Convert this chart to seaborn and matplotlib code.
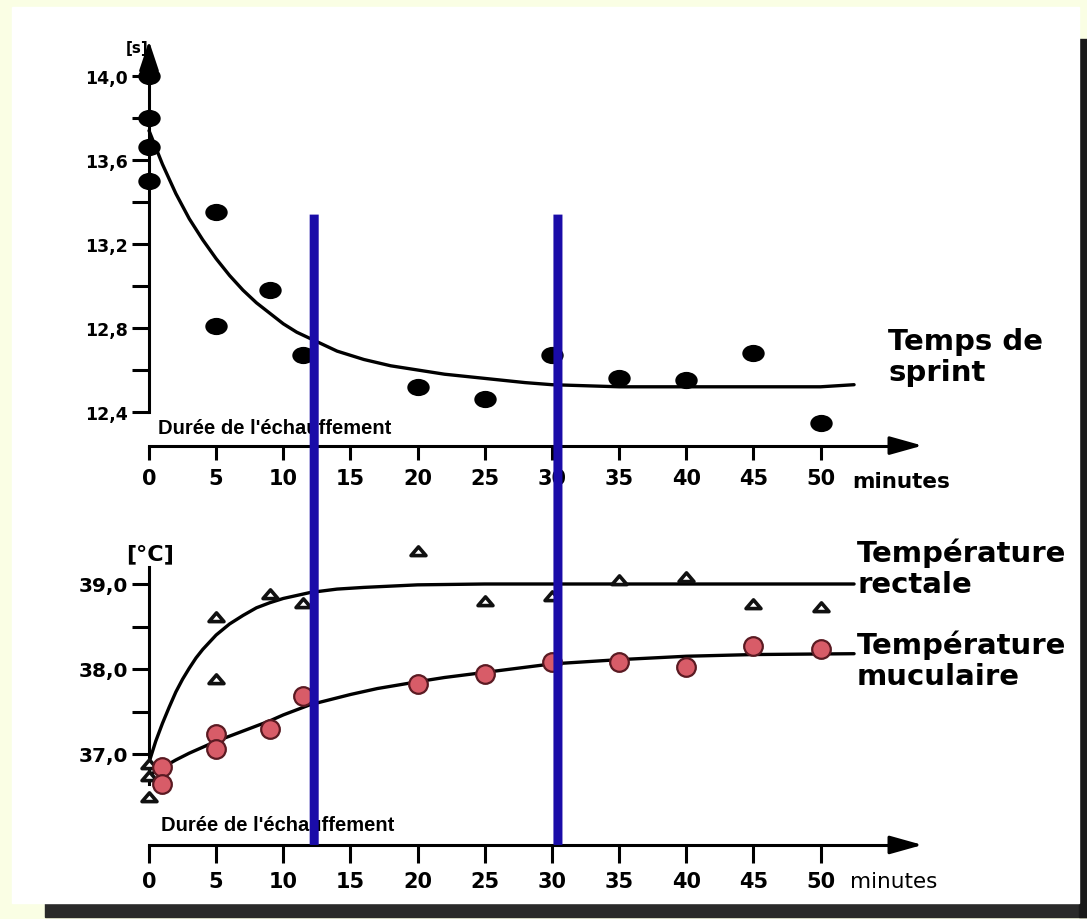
import pandas as pd
import seaborn as sns
import matplotlib.pyplot as plt
from matplotlib.patches import Rectangle, ConnectionPatch
from matplotlib.path import Path
from matplotlib.transforms import Affine2D
from matplotlib.ticker import FixedLocator

# --- values ---
minute_ticks = [0, 5, 10, 15, 20, 25, 30, 35, 40, 45, 50]

# sprint time [s]
sprint_min = [0, 0, 0, 0, 5, 5, 9, 11.5, 20, 25, 30, 35, 40, 45, 50]
sprint_s = [14.0, 13.80, 13.66, 13.50, 13.35, 12.81, 12.98, 12.67,
            12.52, 12.46, 12.67, 12.56, 12.55, 12.68, 12.35]
sprint_fit_min = [0, 0.5, 1, 1.5, 2, 3, 4, 5, 6, 7, 8, 9, 10, 11, 12, 13, 14, 15,
                  16, 18, 20, 22, 25, 28, 30, 35, 40, 45, 50, 52.5]
sprint_fit_s = [13.74, 13.66, 13.58, 13.51, 13.44, 13.32, 13.22, 13.13, 13.05, 12.98,
                12.92, 12.87, 12.82, 12.78, 12.75, 12.72, 12.69, 12.67, 12.65, 12.62,
                12.60, 12.58, 12.56, 12.54, 12.53, 12.52, 12.52, 12.52, 12.52, 12.53]
sprint_ticks = [12.4, 12.8, 13.2, 13.6, 14.0]
sprint_labels = ['12,4', '12,8', '13,2', '13,6', '14,0']
sprint_minor = [12.6, 13.0, 13.4, 13.8]

# rectal temperature [°C]
rect_min = [0, 0, 0, 5, 5, 9, 11.5, 20, 25, 30, 35, 40, 45, 50]
rect_t = [36.88, 36.74, 36.50, 38.61, 37.88, 38.88, 38.78, 39.39,
          38.80, 38.86, 39.05, 39.08, 38.76, 38.73]
rect_fit_min = [0, 0.5, 1, 1.5, 2, 2.5, 3, 3.5, 4, 5, 6, 7, 8, 9, 10, 12, 14, 16,
                20, 25, 30, 40, 52.5]
rect_fit_t = [36.90, 37.15, 37.36, 37.55, 37.73, 37.88, 38.01, 38.13, 38.23, 38.40,
              38.53, 38.63, 38.72, 38.78, 38.83, 38.90, 38.94, 38.96, 38.99, 39.0,
              39.0, 39.0, 39.0]

# muscle temperature [°C]
musc_min = [1, 1, 5, 5, 9, 11.5, 20, 25, 30, 35, 40, 45, 50]
musc_t = [36.85, 36.65, 37.24, 37.06, 37.29, 37.68, 37.82, 37.94,
          38.08, 38.08, 38.02, 38.27, 38.24]
musc_fit_min = [0, 1, 2, 3, 4, 5, 6, 7, 8, 9, 10, 11, 12, 13, 15, 17, 20, 22, 25,
                28, 30, 35, 40, 45, 52.5]
musc_fit_t = [36.75, 36.84, 36.93, 37.01, 37.08, 37.15, 37.21, 37.27, 37.33, 37.39,
              37.46, 37.52, 37.58, 37.62, 37.70, 37.77, 37.85, 37.90, 37.96, 38.02,
              38.06, 38.11, 38.15, 38.17, 38.18]
temp_ticks = [37.0, 38.0, 39.0]
temp_labels = ['37,0', '38,0', '39,0']
temp_minor = [37.5, 38.5]

# the two blue marks (minutes)
marks_min = [12.3, 30.45]

W, H = 1087, 920
BLUE = '#1a0ca8'

sns.set_style('ticks')
plt.rcParams['font.family'] = ['DejaVu Sans']

fig = plt.figure(figsize=(W / 100, H / 100), dpi=100)
fig.patch.set_facecolor('#fafee4')


def fx(px):
    return px / W


def fy(py):
    return 1 - py / H


def add_panel(xlim, x_ref, ylim, y_ref):
    # place an axes so that two known data values land on known pixels
    (xa, pxa), (xb, pxb) = x_ref
    kx = (pxb - pxa) / (xb - xa)
    left = pxa + (xlim[0] - xa) * kx
    right = pxa + (xlim[1] - xa) * kx
    (ya, pya), (yb, pyb) = y_ref
    ky = (pyb - pya) / (yb - ya)
    top = pya + (ylim[1] - ya) * ky
    bottom = pya + (ylim[0] - ya) * ky
    ax = fig.add_axes([fx(left), fy(bottom), (right - left) / W, (bottom - top) / H])
    ax.set_xlim(xlim)
    ax.set_ylim(ylim)
    ax.patch.set_alpha(0)
    return ax


def style_axes(ax, x_level, y_bounds, yticks, ylabels, yminor, ysize, xlen):
    for side in ['top', 'right']:
        ax.spines[side].set_visible(False)
    ax.spines['left'].set_position(('data', 0))
    ax.spines['left'].set_bounds(*y_bounds)
    ax.spines['bottom'].set_position(('data', x_level))
    ax.spines['bottom'].set_bounds(0, 56)
    for side in ['left', 'bottom']:
        ax.spines[side].set_linewidth(2.2)
        ax.spines[side].set_color('black')

    ax.set_xticks(minute_ticks)
    ax.set_xticklabels([str(m) for m in minute_ticks], fontweight='bold', fontsize=15)
    ax.xaxis.set_minor_locator(FixedLocator([0]))
    ax.tick_params(axis='x', which='major', direction='out', length=xlen, width=2.2,
                   pad=6, color='black', labelcolor='black')
    ax.tick_params(axis='x', which='minor', direction='inout', length=2 * xlen, width=2.2,
                   color='black')

    ax.set_yticks(yticks)
    ax.set_yticklabels(ylabels, fontweight='bold', fontsize=ysize)
    ax.yaxis.set_minor_locator(FixedLocator(yminor))
    ax.tick_params(axis='y', which='both', direction='out', length=12, width=2.2,
                   pad=3, color='black', labelcolor='black')
    ax.set(xlabel='', ylabel='')

    ax.annotate('', xy=(57.8, x_level), xytext=(55.0, x_level), annotation_clip=False,
                arrowprops=dict(arrowstyle='-|>,head_length=1.0,head_width=0.28',
                                color='black', lw=2.2, mutation_scale=20))


# background card with a shadow
fig.add_artist(Rectangle((fx(45), fy(918)), fx(1087) - fx(45), 15 / H,
                         transform=fig.transFigure, color='#2a2a2a', zorder=-6))
fig.add_artist(Rectangle((fx(1079), fy(918)), 8 / W, 878 / H,
                         transform=fig.transFigure, color='#1a1a1a', zorder=-6))
fig.add_artist(Rectangle((fx(12), fy(904)), fx(1079) - fx(12), 896 / H,
                         transform=fig.transFigure, color='white', zorder=-5))

ellipse = Path.unit_circle().transformed(Affine2D().scale(1.3, 1.0))
triangle = Path([(-1, -0.55), (1, -0.55), (0, 0.62), (-1, -0.55)],
                [Path.MOVETO, Path.LINETO, Path.LINETO, Path.CLOSEPOLY])

# ---------- top: sprint time ----------
ax1 = add_panel((-4, 60), ((0, 149), (50, 820.5)), (12.15, 14.25), ((14.0, 77), (12.4, 413)))
sprint_fit = pd.DataFrame({'min': sprint_fit_min, 's': sprint_fit_s})
sprint = pd.DataFrame({'min': sprint_min, 's': sprint_s})
sns.lineplot(data=sprint_fit, x='min', y='s', ax=ax1, color='black', lw=2.4,
             errorbar=None, sort=False)
sns.scatterplot(data=sprint, x='min', y='s', ax=ax1, marker=ellipse, s=260,
                color='black', edgecolor='black', linewidth=0, zorder=3, clip_on=False)
style_axes(ax1, 12.24, (12.4, 14.1), sprint_ticks, sprint_labels, sprint_minor, 12.5, 10)
ax1.annotate('', xy=(0, 14.18), xytext=(0, 14.05), annotation_clip=False,
             arrowprops=dict(arrowstyle='-|>,head_length=0.9,head_width=0.3',
                             color='black', lw=2.2, mutation_scale=20))

# ---------- bottom: temperatures ----------
ax2 = add_panel((-4, 60), ((0, 149), (50, 820.5)), (35.3, 39.8), ((39.0, 585), (37.0, 755)))
rect_fit = pd.DataFrame({'min': rect_fit_min, 't': rect_fit_t})
musc_fit = pd.DataFrame({'min': musc_fit_min, 't': musc_fit_t})
rect = pd.DataFrame({'min': rect_min, 't': rect_t})
musc = pd.DataFrame({'min': musc_min, 't': musc_t})
sns.lineplot(data=rect_fit, x='min', y='t', ax=ax2, color='black', lw=2.4,
             errorbar=None, sort=False)
sns.lineplot(data=musc_fit, x='min', y='t', ax=ax2, color='black', lw=2.4,
             errorbar=None, sort=False)
sns.scatterplot(data=rect, x='min', y='t', ax=ax2, marker=triangle, s=115,
                facecolor='white', edgecolor='#111111', linewidth=2.6, zorder=3,
                clip_on=False)
sns.scatterplot(data=musc, x='min', y='t', ax=ax2, marker='o', s=180,
                color='#d85c68', edgecolor='#5a1a22', linewidth=1.6, zorder=4,
                clip_on=False)
style_axes(ax2, 35.93, (36.65, 39.2), temp_ticks, temp_labels, temp_minor, 14.5, 13)

# blue vertical marks across both panels
for m in marks_min:
    con = ConnectionPatch(xyA=(m, 13.34), coordsA=ax1.transData,
                          xyB=(m, 35.93), coordsB=ax2.transData,
                          color=BLUE, lw=6.5, zorder=10, capstyle='butt')
    fig.add_artist(con)

# ---------- texts ----------
bold = dict(fontweight='bold', color='black')
narrow = ['Liberation Sans', 'DejaVu Sans']
fig.text(fx(137), fy(49), '[s]', ha='center', va='center', fontsize=11, **bold)
fig.text(fx(888), fy(328), 'Temps de\nsprint', ha='left', va='top', fontsize=21,
         linespacing=1.15, **bold)
fig.text(fx(852), fy(482), 'minutes', ha='left', va='center', fontsize=15.5, **bold)
fig.text(fx(158), fy(429), "Durée de l'échauffement", ha='left', va='center',
         fontsize=14.5, family=narrow, **bold)

fig.text(fx(150), fy(554), '[°C]', ha='center', va='center', fontsize=16, **bold)
fig.text(fx(857), fy(539), 'Température\nrectale', ha='left', va='top', fontsize=21,
         linespacing=1.1, **bold)
fig.text(fx(857), fy(631), 'Température\nmuculaire', ha='left', va='top', fontsize=21,
         linespacing=1.1, **bold)
fig.text(fx(850), fy(882), 'minutes', ha='left', va='center', fontsize=15.5, color='black')
fig.text(fx(161), fy(826), "Durée de l'échauffement", ha='left', va='center',
         fontsize=14.5, family=narrow, **bold)

fig.savefig('out.png', dpi=100, facecolor=fig.get_facecolor())
